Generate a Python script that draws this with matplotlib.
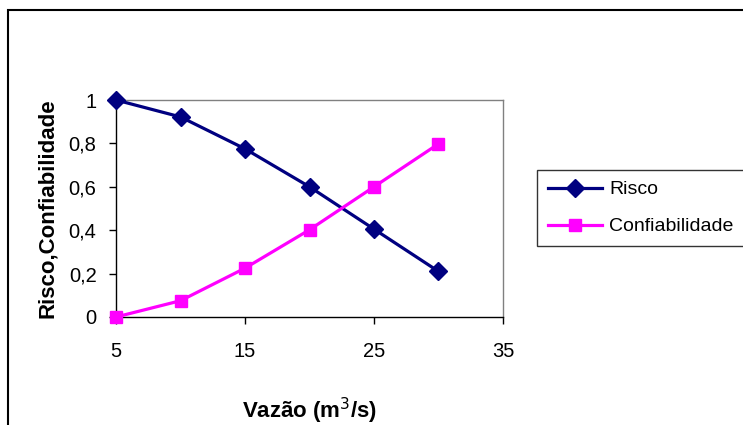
import matplotlib.pyplot as plt
from matplotlib.patches import Rectangle

vazao = [5, 10, 15, 20, 25, 30]
risco = [1.0, 0.922, 0.775, 0.6, 0.405, 0.21]
confiabilidade = [0.0, 0.075, 0.225, 0.402, 0.6, 0.798]

x_ticks = [5, 15, 25, 35]
y_ticks = [0, 0.2, 0.4, 0.6, 0.8, 1.0]
y_labels = ['0', '0,2', '0,4', '0,6', '0,8', '1']

plt.rcParams['font.family'] = ['Liberation Sans', 'DejaVu Sans']

fig = plt.figure(figsize=(7.43, 4.25), dpi=100)
W, H = 743, 425

# outer chart border
fig.patches.append(Rectangle((8 / W, -0.05), 1.0, 1 - 10 / H + 0.05, transform=fig.transFigure,
                             fill=False, edgecolor='black', linewidth=1.5))

ax = fig.add_axes([116 / W, 1 - 317 / H, (503 - 116) / W, (317 - 100) / H])
ax.plot(vazao, risco, color='#000080', linewidth=2.3, marker='D', markersize=9,
        label='Risco', clip_on=False, zorder=3)
ax.plot(vazao, confiabilidade, color='#FF00FF', linewidth=2.3, marker='s', markersize=9,
        label='Confiabilidade', clip_on=False, zorder=3)

ax.set_xlim(5, 35)
ax.set_ylim(0, 1)
ax.set_xticks(x_ticks)
ax.set_yticks(y_ticks)
ax.set_yticklabels(y_labels)
ax.tick_params(labelsize=14.5, length=5, width=1, direction='out')
ax.tick_params(axis='x', pad=13)
ax.tick_params(axis='y', pad=9)

for side in ['top', 'right']:
    ax.spines[side].set_color('#808080')
    ax.spines[side].set_linewidth(1)
for side in ['left', 'bottom']:
    ax.spines[side].set_color('black')
    ax.spines[side].set_linewidth(1)

ax.set_xlabel('Vazão (m$^3$/s)', fontsize=16, fontweight='bold', labelpad=25)
ax.set_ylabel('Risco,Confiabilidade', fontsize=16, fontweight='bold', labelpad=8)

leg = fig.legend(loc='upper left', bbox_to_anchor=(537 / W, 1 - 170 / H), fontsize=14,
                 frameon=True, fancybox=False, edgecolor='black', borderpad=0.55,
                 handlelength=2.8, handletextpad=0.35, labelspacing=1.0, borderaxespad=0)
leg.get_frame().set_linewidth(1)

fig.savefig('out.png', dpi=100)
